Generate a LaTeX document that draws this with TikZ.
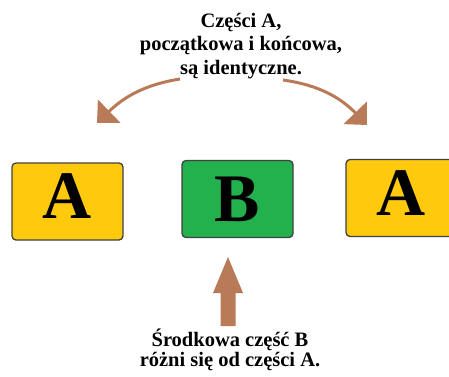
\documentclass[tikz,border=0pt]{standalone}
\usepackage{fontspec}
\setmainfont{Liberation Serif}
\usepackage{tikz}
\usetikzlibrary{arrows.meta}
\definecolor{gold}{HTML}{FFC90E}
\definecolor{grass}{HTML}{22B14C}
\definecolor{clay}{HTML}{B97A57}
\tikzset{part/.style={draw=black!75,line width=1.3pt,rounded corners=4pt,minimum width=111pt,minimum height=77pt,inner sep=0pt,font=\fontsize{68}{68}\selectfont\bfseries}}
\tikzset{boxa/.style={part,fill=gold,text depth=10pt}}
\tikzset{boxb/.style={part,fill=grass}}
\tikzset{bow/.style={clay,line width=3pt,-{Triangle[width=32pt,length=17pt]}}}
\tikzset{txt/.style={align=center,font=\fontsize{20.5}{23.5}\selectfont\bfseries}}

\begin{document}
\begin{tikzpicture}[line join=round,x=1pt,y=1pt]
  \useasboundingbox (0,0) rectangle (449,376);
  % the three parts
  \node[boxa] (A1) at (67.5,174.5) {A};
  \node[boxb] (B) at (237.5,177) {B};
  \node[boxa] (A2) at (401.5,178) {A};
  % captions
  \node[txt] (top) at (241,330) {Części A,\\ początkowa i końcowa,\\ są identyczne.};
  \node[txt,font=\fontsize{20.5}{20.5}\selectfont\bfseries] (bot) at (230,26) {Środkowa część B\\ różni się od części A.};
  % arrows
  \coordinate (s1) at (180,297);
  \coordinate (t1) at (97,253);
  \coordinate (s2) at (283,296);
  \coordinate (t2) at (367,251);
  \draw[bow] (s1) to[out=189,in=44] (t1);
  \draw[bow] (s2) to[out=-8,in=134] (t2);
  \coordinate (up) at (228,119);
  \fill[clay] (up) -- ++(15,-36) -- ++(-7.5,0) -- ++(0,-33) -- ++(-15,0) -- ++(0,33) -- ++(-7.5,0) -- cycle;
\end{tikzpicture}
\end{document}
